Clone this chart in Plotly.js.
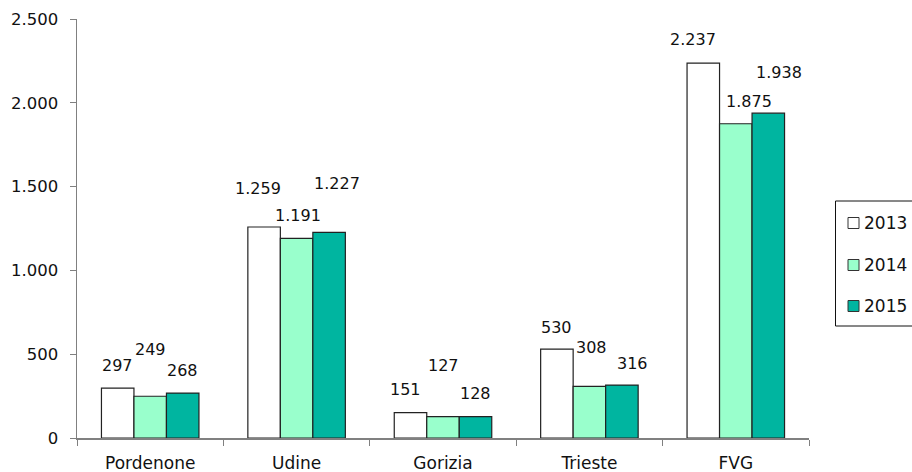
<!DOCTYPE html>
<html>
<head>
<meta charset="utf-8">
<script src="https://cdn.plot.ly/plotly-3.0.1.min.js"></script>
<style>html,body{margin:0;padding:0;background:#fff;}#chart{width:912px;height:472px;}</style>
</head>
<body>
<div id="chart"></div>
<script>
const categories = ["Pordenone", "Udine", "Gorizia", "Trieste", "FVG"];
const years = ["2013", "2014", "2015"];
const values2013 = [297, 1259, 151, 530, 2237];
const values2014 = [249, 1191, 127, 308, 1875];
const values2015 = [268, 1227, 128, 316, 1938];
const yTickVals = [0, 500, 1000, 1500, 2000, 2500];

// label placement (pixel offsets from bar top centre), styling only
const labelShiftY = [
  [23, 47, 23],
  [38, 23, 49],
  [23, 51, 23],
  [22, 39, 22],
  [24, 22, 41]
];
const labelShiftX = [
  [0, 0, 0],
  [-6, 1, 8],
  [-5, 0, 0],
  [0, 2, 11],
  [-10, 13, 11]
];

const series = [values2013, values2014, values2015];
const colors = ["#FFFFFF", "#99FFCC", "#00B5A0"];
const FONT = "DejaVu Sans, Verdana, sans-serif";

function fmt(v) {
  return String(v).replace(/\B(?=(\d{3})+(?!\d))/g, ".");
}

const bargap = 0.334;
const barW = (1 - bargap) / 3;

const traces = series.map((vals, i) => ({
  type: "bar",
  name: years[i],
  x: categories,
  y: vals,
  marker: { color: colors[i], line: { color: "#222222", width: 1.2 } },
  showlegend: false,
  hoverinfo: "skip"
}));

const annotations = [];
categories.forEach((c, ci) => {
  series.forEach((vals, si) => {
    annotations.push({
      x: ci + (si - 1) * barW,
      y: vals[ci],
      xref: "x",
      yref: "y",
      text: fmt(vals[ci]),
      showarrow: false,
      xanchor: "center",
      yanchor: "middle",
      xshift: labelShiftX[ci][si],
      yshift: labelShiftY[ci][si],
      font: { family: FONT, size: 16, color: "#111111" }
    });
  });
});

// custom legend (pixel geometry converted to paper coords)
const ML = 77, MT = 19, PW = 732, PH = 419;
const px = (x) => (x - ML) / PW;
const py = (y) => (MT + PH - y) / PH;
const shapes = [{
  type: "rect", xref: "paper", yref: "paper",
  x0: px(835.5), x1: px(918), y0: py(326), y1: py(201),
  line: { color: "#111111", width: 1 }, fillcolor: "#FFFFFF", layer: "above"
}];
const legendY = [223, 265, 306];
years.forEach((yr, i) => {
  shapes.push({
    type: "rect", xref: "paper", yref: "paper",
    x0: px(848), x1: px(859), y0: py(legendY[i] + 5.5), y1: py(legendY[i] - 5.5),
    line: { color: "#333333", width: 1 }, fillcolor: colors[i], layer: "above"
  });
  annotations.push({
    xref: "paper", yref: "paper",
    x: px(862), y: py(legendY[i]),
    xanchor: "left", yanchor: "middle",
    text: yr, showarrow: false,
    font: { family: FONT, size: 17, color: "#111111" }
  });
});

const layout = {
  width: 912,
  height: 472,
  margin: { l: ML, r: 912 - ML - PW, t: MT, b: 472 - MT - PH },
  paper_bgcolor: "#FFFFFF",
  plot_bgcolor: "#FFFFFF",
  separators: ",.",
  barmode: "group",
  bargap: bargap,
  bargroupgap: 0,
  font: { family: FONT, size: 16, color: "#111111" },
  xaxis: {
    type: "category",
    tickson: "boundaries",
    ticks: "outside",
    ticklen: 6,
    tickcolor: "#808080",
    showline: true,
    linecolor: "#808080",
    linewidth: 1.5,
    showgrid: false,
    zeroline: false,
    ticklabelstandoff: 9,
    tickfont: { family: FONT, size: 17, color: "#111111" }
  },
  yaxis: {
    range: [0, 2500],
    tickvals: yTickVals,
    ticktext: yTickVals.map(fmt),
    ticks: "outside",
    ticklen: 6,
    tickcolor: "#808080",
    showline: true,
    linecolor: "#808080",
    linewidth: 1.5,
    showgrid: false,
    zeroline: false,
    ticklabelstandoff: 8,
    tickfont: { family: FONT, size: 16.5, color: "#111111" }
  },
  showlegend: false,
  shapes: shapes,
  annotations: annotations
};

Plotly.newPlot("chart", traces, layout, { displayModeBar: false, staticPlot: true });
</script>
</body>
</html>
